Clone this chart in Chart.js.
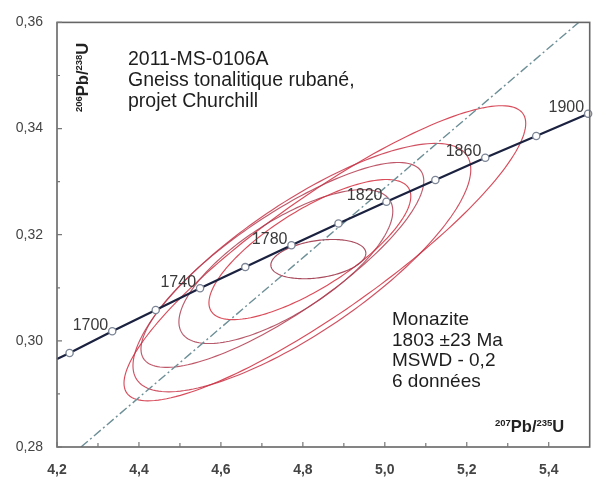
<!DOCTYPE html>
<html><head><meta charset="utf-8">
<script src="https://cdn.jsdelivr.net/npm/chart.js@4/dist/chart.umd.min.js"></script>
<style>html,body{margin:0;padding:0;background:#fff}#wrap{width:595px;height:477px}</style>
</head><body><div id="wrap"><canvas id="c" width="595" height="477"></canvas></div>
<script>
// ---- data ----
const concordiaAges = [null, 1680, 1700, 1720, 1740, 1760, 1780, 1800, 1820, 1840, 1860, 1880, 1900];
const concordiaX = [4.200, 4.2307, 4.3348, 4.4409, 4.5491, 4.6595, 4.7721, 4.8869, 5.0040, 5.1234, 5.2452, 5.3695, 5.4962];
const concordiaY = [0.2966, 0.2977, 0.3018, 0.3058, 0.3099, 0.3139, 0.3180, 0.3221, 0.3262, 0.3303, 0.3345, 0.3386, 0.3428];
const labeledAges = [1700, 1740, 1780, 1820, 1860, 1900];

const discordiaX = [4.2585, 5.4732];
const discordiaY = [0.28, 0.36];

// error ellipses: centre, half-extent in x and y, correlation
const ellCx  = [4.8537, 4.7976, 4.7500, 4.7585, 4.8171, 4.8378];
const ellCy  = [0.3165, 0.3138, 0.3143, 0.3140, 0.3172, 0.3154];
const ellHx  = [0.4902, 0.4122, 0.3451, 0.2610, 0.2463, 0.1159];
const ellHy  = [0.0278, 0.0234, 0.0193, 0.0145, 0.0132, 0.0037];
const ellRho = [0.88, 0.79, 0.82, 0.72, 0.76, 0.30];

const xTicks = [4.2, 4.4, 4.6, 4.8, 5.0, 5.2, 5.4];
const xMinor = [4.3, 4.5, 4.7, 4.9, 5.1, 5.3];
const yTicks = [0.28, 0.30, 0.32, 0.34, 0.36];
const yMinor = [0.29, 0.31, 0.33, 0.35];

const titleLines = ['2011-MS-0106A', 'Gneiss tonalitique rubané,', 'projet Churchill'];
const resultLines = ['Monazite', '1803 ±23 Ma', 'MSWD - 0,2', '6 données'];

const FONT = '"Liberation Sans", Arial, sans-serif';

function drawRich(ctx, parts, x, y) {
  let cx = x;
  for (const p of parts) {
    ctx.font = p.sup ? 'bold 9.5px ' + FONT : 'bold 16.5px ' + FONT;
    ctx.fillText(p.t, cx, p.sup ? y - 6 : y);
    cx += ctx.measureText(p.t).width;
  }
}

const decor = {
  id: 'decor',
  beforeDatasetsDraw(chart) {
    const {ctx, chartArea: a, scales: {x, y}} = chart;
    ctx.save();
    ctx.beginPath(); ctx.rect(a.left, a.top, a.right - a.left, a.bottom - a.top); ctx.clip();
    const cols = ['rgba(208,45,62,0.85)', 'rgba(200,50,70,0.85)', 'rgba(180,60,80,0.85)', 'rgba(170,62,82,0.85)', 'rgba(212,45,60,0.85)', 'rgba(160,55,75,0.9)'];
    for (let i = 0; i < ellCx.length; i++) {
      const r = ellRho[i], s = Math.sqrt(1 - r * r);
      ctx.beginPath();
      for (let k = 0; k <= 180; k++) {
        const t = k / 180 * 2 * Math.PI;
        const dx = ellCx[i] + ellHx[i] * Math.cos(t);
        const dy = ellCy[i] + ellHy[i] * (r * Math.cos(t) + s * Math.sin(t));
        const px = x.getPixelForValue(dx), py = y.getPixelForValue(dy);
        if (k === 0) ctx.moveTo(px, py); else ctx.lineTo(px, py);
      }
      ctx.closePath();
      ctx.strokeStyle = cols[i];
      ctx.lineWidth = 1.15;
      ctx.stroke();
    }
    ctx.restore();
  },
  afterDatasetsDraw(chart) {
    const {ctx, chartArea: a, scales: {x, y}} = chart;
    ctx.save();
    // frame
    ctx.strokeStyle = '#666'; ctx.lineWidth = 1.6;
    ctx.strokeRect(a.left, a.top, a.right - a.left, a.bottom - a.top);
    // inward ticks
    ctx.lineWidth = 1.2; ctx.strokeStyle = '#777';
    ctx.beginPath();
    xTicks.forEach(v => { const p = x.getPixelForValue(v); ctx.moveTo(p, a.bottom); ctx.lineTo(p, a.bottom - 5); });
    xMinor.forEach(v => { const p = x.getPixelForValue(v); ctx.moveTo(p, a.bottom); ctx.lineTo(p, a.bottom - 4); });
    yTicks.forEach(v => { const p = y.getPixelForValue(v); ctx.moveTo(a.left, p); ctx.lineTo(a.left + 5, p); });
    yMinor.forEach(v => { const p = y.getPixelForValue(v); ctx.moveTo(a.left, p); ctx.lineTo(a.left + 3, p); });
    ctx.stroke();
    // age labels
    ctx.font = '16px ' + FONT; ctx.fillStyle = '#3a3a3a';
    ctx.textAlign = 'right'; ctx.textBaseline = 'middle';
    labeledAges.forEach(age => {
      const i = concordiaAges.indexOf(age);
      const px = x.getPixelForValue(concordiaX[i]), py = y.getPixelForValue(concordiaY[i]);
      ctx.fillText(String(age), px - 4, py - 6);
    });
    // annotation blocks
    ctx.textAlign = 'left'; ctx.textBaseline = 'alphabetic'; ctx.fillStyle = '#1e1e1e';
    ctx.font = '19.5px ' + FONT;
    titleLines.forEach((t, k) => ctx.fillText(t, 128, 65 + k * 21));
    ctx.font = '19px ' + FONT;
    resultLines.forEach((t, k) => ctx.fillText(t, 392, 325 + k * 20.7));
    // axis titles
    ctx.fillStyle = '#222';
    drawRich(ctx, [{t:'207', sup:true}, {t:'Pb/', sup:false}, {t:'235', sup:true}, {t:'U', sup:false}], 495, 432);
    ctx.save();
    ctx.translate(88, 112); ctx.rotate(-Math.PI / 2);
    drawRich(ctx, [{t:'206', sup:true}, {t:'Pb/', sup:false}, {t:'238', sup:true}, {t:'U', sup:false}], 0, 0);
    ctx.restore();
    ctx.restore();
  }
};

new Chart(document.getElementById('c'), {
  type: 'scatter',
  data: {
    datasets: [
      {
        label: 'Concordia',
        data: concordiaX.map((v, i) => ({x: v, y: concordiaY[i]})),
        showLine: true, borderColor: '#1b2240', borderWidth: 2.2, tension: 0,
        pointRadius: concordiaAges.map(a => a === null ? 0 : 3.6),
        pointBackgroundColor: '#ffffff', pointBorderColor: '#7b8595', pointBorderWidth: 1.3,
        clip: false
      },
      {
        label: 'Discordia',
        data: discordiaX.map((v, i) => ({x: v, y: discordiaY[i]})),
        showLine: true, borderColor: '#6d8f97', borderWidth: 1.4,
        borderDash: [9, 3, 2, 3], pointRadius: 0
      }
    ]
  },
  options: {
    responsive: false, animation: false, devicePixelRatio: 1,
    layout: {padding: {top: 15, right: 3, left: 0, bottom: 0}},
    plugins: {legend: {display: false}, tooltip: {enabled: false}},
    scales: {
      x: {
        type: 'linear', min: 4.2, max: 5.5,
        afterFit: s => { s.height = 30; },
        afterBuildTicks: s => { s.ticks = xTicks.map(v => ({value: v})); },
        grid: {display: false, drawTicks: false}, border: {display: false},
        ticks: {padding: 15, color: '#444', font: {family: FONT, size: 14, weight: 'bold'},
                callback: v => Number(v).toFixed(1).replace('.', ','), maxRotation: 0}
      },
      y: {
        type: 'linear', min: 0.28, max: 0.36,
        afterFit: s => { s.width = 57; },
        afterBuildTicks: s => { s.ticks = yTicks.map(v => ({value: v})); },
        grid: {display: false, drawTicks: false}, border: {display: false},
        ticks: {padding: 14, color: '#444', font: {family: FONT, size: 14},
                callback: v => Number(v).toFixed(2).replace('.', ',')}
      }
    }
  },
  plugins: [decor]
});
</script></body></html>
